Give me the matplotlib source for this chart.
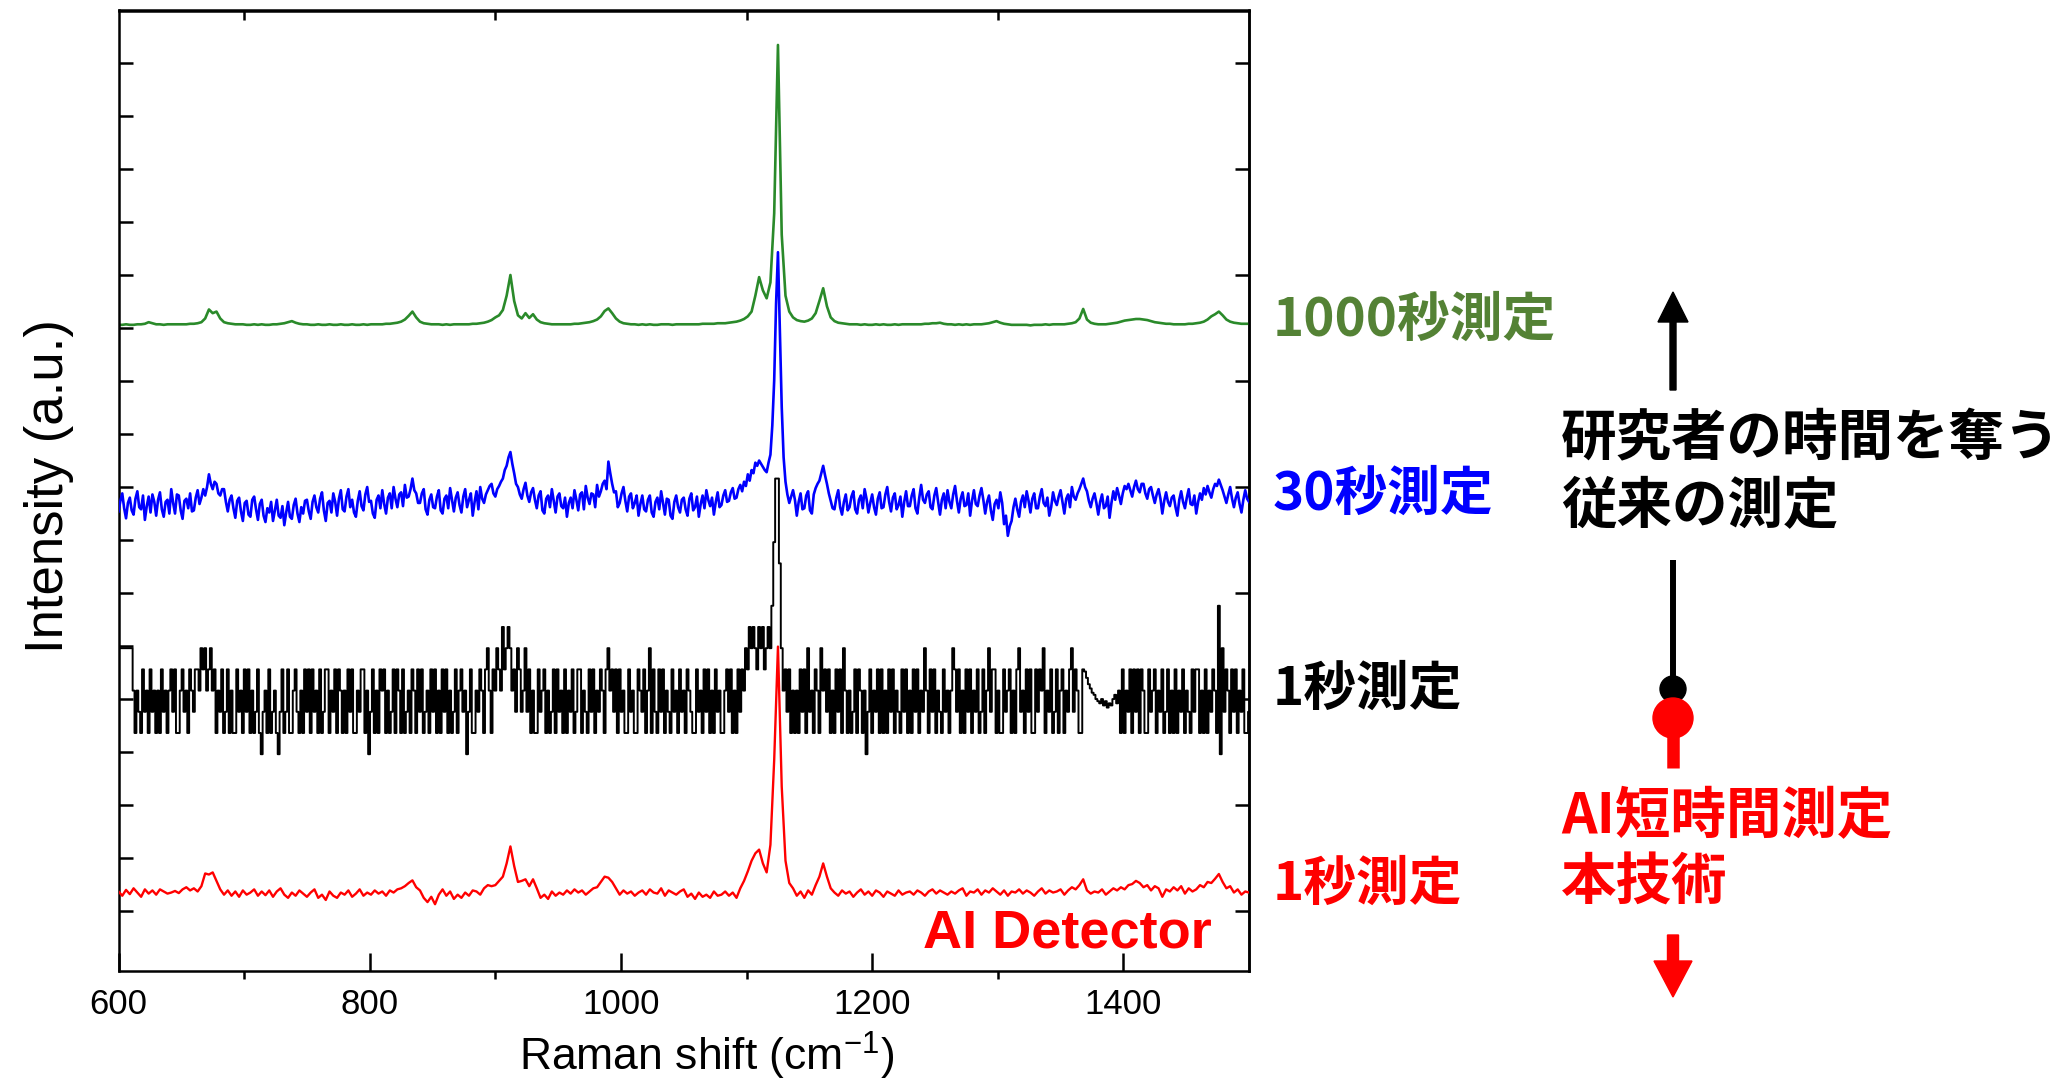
import numpy as np
import matplotlib
matplotlib.use("Agg")
import matplotlib.pyplot as plt
from matplotlib.patches import FancyArrow, Circle

plt.rcParams['font.family'] = ['Liberation Sans', 'DejaVu Sans']
plt.rcParams['mathtext.fontset'] = 'custom'
plt.rcParams['mathtext.rm'] = 'Liberation Sans'
plt.rcParams['mathtext.default'] = 'regular'

# Raman shift grids (cm-1): smooth traces every 3 cm-1, noisy ones every 1.5 cm-1
shift = np.arange(600, 1501, 3)
shift_fine = np.linspace(600, 1500, 601)

# spectra, in 0.01 tick-units above each trace's baseline
green_1000s = [
    0, 0, 1, 0, 0, 1, 1, 2, 5, 3,
    1, 1, 0, 1, 1, 1, 1, 1, 1, 2,
    2, 3, 5, 12, 29, 22, 25, 12, 5, 3,
    2, 1, 1, 1, 0, 0, 1, 0, 1, 0,
    0, 1, 1, 2, 3, 5, 7, 4, 2, 1,
    1, 0, 0, 1, 0, 0, 1, 0, 0, 1,
    0, 0, 1, 0, 0, 1, 0, 1, 1, 1,
    1, 2, 2, 3, 4, 6, 10, 17, 25, 14,
    6, 3, 2, 1, 1, 1, 0, 1, 0, 1,
    1, 1, 1, 1, 2, 2, 3, 4, 6, 9,
    14, 18, 28, 55, 94, 45, 18, 12, 22, 13,
    20, 10, 5, 3, 2, 1, 1, 1, 1, 1,
    1, 2, 2, 3, 4, 5, 7, 10, 16, 26,
    31, 22, 12, 6, 3, 2, 1, 1, 0, 1,
    0, 1, 0, 0, 1, 1, 1, 0, 1, 1,
    1, 1, 1, 1, 1, 2, 2, 2, 2, 3,
    3, 3, 4, 5, 6, 8, 11, 16, 25, 55,
    90, 65, 50, 80, 210, 528, 170, 55, 25, 14,
    9, 7, 6, 8, 12, 22, 45, 69, 35, 14,
    7, 4, 3, 2, 1, 1, 1, 0, 1, 0,
    0, 1, 0, 1, 0, 0, 1, 0, 1, 1,
    1, 1, 1, 1, 2, 2, 3, 3, 4, 2,
    1, 1, 0, 1, 0, 1, 0, 1, 1, 1,
    2, 3, 5, 7, 4, 2, 1, 0, 0, 0,
    0, 0, -1, 0, 0, 0, 1, 0, 1, 1,
    1, 1, 2, 3, 5, 12, 30, 10, 4, 2,
    1, 1, 1, 2, 3, 4, 6, 8, 9, 10,
    11, 11, 10, 9, 7, 5, 4, 3, 2, 2,
    1, 1, 1, 1, 2, 2, 3, 4, 6, 10,
    16, 20, 25, 18, 10, 6, 4, 3, 2, 2,
    2,
]

# 30 s trace on the fine grid (20 readings per 30 cm-1)
blue_30s = [
    -12, 8, 22, -6, -25, 4, 14, -10, -18, 12, 26, -4, -8, 18, -28, -2, 16, -14, 20, 6,
    -20, 10, 24, -8, -22, 6, 10, -16, 30, 4, -16, 20, 18, -10, -26, 8, 12, -6, 22, -12,
    -10, 14, 28, 2, 14, 30, 18, 34, 58, 40, 30, 44, 40, 22, 18, 30, 30, 6, -12, 10,
    18, -6, -24, 8, 14, -12, -30, 4, 8, -18, -22, 10, 16, -8, -28, 2, 10, -20, -32, -6,
    -14, 6, -30, -10, 10, -20, -24, -2, -38, -14, 6, -22, -26, 0, 12, -16, -32, -4, -16, 8,
    10, -12, -26, 6, 18, -4, -14, 12, 24, -10, -30, 4, 8, -14, 22, 6, -20, 12, 28, -8,
    -12, 16, 30, -4, 10, -14, -22, 8, 26, -2, -10, 20, 34, 6, 8, -16, -24, 10, 18, -6,
    28, 2, -16, 14, 22, -6, 34, 12, -4, 20, 24, -2, 38, 14, 16, 30, 50, 28, 22, 4,
    4, 22, 30, -8, -18, 10, 20, -4, -6, 16, 28, -10, -16, 12, 18, -6, 32, 10, -12, 14,
    24, 0, -14, 16, 30, -4, 10, 22, -20, 6, 26, -8, 34, 12, 4, 20, 28, 36, 40, 22,
    16, 30, 36, 44, 50, 66, 74, 90, 100, 78, 60, 40, 34, 20, 12, 30, 42, 18, 6, 24,
    32, 10, -6, 18, 26, -10, -16, 12, 18, -4, 30, 8, -14, 16, 22, -2, -6, 14, -22, 4,
    14, -6, 28, 10, -10, 20, 24, -8, 36, 14, 2, 22, 20, -4, 38, 16, 26, 40, 46, 30,
    82, 60, 40, 24, 26, -4, 4, 22, 34, 8, -12, 16, 22, -6, 4, 18, -20, 2, 18, -8,
    -12, 10, 18, -14, -22, 6, 14, -8, 26, 4, -18, 12, 10, -20, -26, 6, 18, -4, -14, 10,
    14, -8, -20, 12, 22, -10, -4, 16, -22, 2, 18, -6, 28, 10, -2, 14, -18, 6, 24, -4,
    0, 18, 28, 6, 8, 24, 32, 12, 14, 30, 38, 26, 44, 36, 58, 46, 66, 60, 80, 74,
    84, 78, 72, 66, 62, 80, 95, 150, 235, 380, 477, 330, 185, 90, 44, 20, 4, 16, 28, 10,
    -20, 6, 22, -8, -6, 18, 26, -10, -16, 20, 32, 40, 46, 60, 74, 56, 40, 22, 8, -6,
    -8, 14, 28, -4, -18, 6, 20, -10, -4, 16, 26, -8, -16, 10, 18, -6, 30, 12, -14, 4,
    20, -4, -18, 12, 24, -6, -4, 20, 34, 6, -12, 14, 22, -8, 0, 16, -22, 6, 26, -2,
    -2, 18, 30, -6, -16, 14, 38, 10, 4, 20, 26, -4, -8, 18, 32, 6, -18, 10, 22, -6,
    28, 6, -6, 20, 36, 8, -14, 12, 24, -2, 0, 22, -20, 8, 28, 2, -2, 18, 32, 10,
    -16, 6, 18, -10, -28, 2, 10, -6, 24, 4, -36, -20, -58, -40, -30, -4, 12, -8, -22, 6,
    18, -4, 26, 8, -14, 12, 22, -6, -6, 16, 30, 4, -2, 14, -20, -4, 24, 8, 0, 16,
    28, 6, -16, 12, 20, -4, 34, 16, 10, 22, 30, 40, 50, 34, 26, 8, -4, 12, 22, 4,
    -18, 6, 20, -6, -2, 16, -24, 4, 26, 10, 32, 18, 2, 22, 36, 30, 40, 28, 16, 34,
    46, 30, 24, 40, 40, 22, 12, 30, 34, 18, 4, 20, 30, 12, -16, 8, 24, 6, -2, 14,
    18, -4, -20, 10, 26, 6, -6, 14, 30, 2, 0, 18, -16, 6, 22, 10, 32, 20, 36, 24,
    14, 30, 40, 36, 48, 38, 28, 16, 4, 20, 34, 12, -4, 14, 24, 2, -14, 10, 28, 12,
    6,
]

# 1 s measurement is quantised: detector counts on the fine grid
black_1s_counts = [
    8, 8, 8, 8, 8, 8, 8, 8, 6, 4, 6, 5, 4, 7, 5, 6, 4, 7, 5, 6,
    4, 6, 4, 7, 5, 6, 4, 6, 7, 5, 7, 4, 4, 6, 7, 5, 6, 4, 7, 6,
    5, 7, 7, 6, 8, 7, 8, 6, 7, 8, 6, 7, 4, 6, 5, 7, 4, 5, 7, 4,
    6, 4, 4, 7, 5, 6, 4, 7, 5, 7, 4, 6, 4, 5, 7, 4, 3, 5, 6, 4,
    7, 4, 5, 6, 4, 3, 5, 7, 4, 5, 7, 4, 4, 6, 7, 5, 4, 6, 4, 7,
    5, 7, 4, 7, 5, 6, 4, 7, 4, 5, 7, 7, 4, 6, 5, 7, 4, 7, 6, 4,
    6, 4, 7, 5, 7, 4, 4, 6, 5, 7, 7, 4, 6, 3, 5, 7, 4, 6, 4, 7,
    6, 7, 4, 6, 4, 5, 7, 4, 7, 6, 4, 7, 4, 5, 6, 4, 7, 6, 4, 7,
    5, 7, 4, 5, 6, 4, 7, 5, 7, 4, 6, 4, 7, 5, 7, 4, 6, 4, 5, 7,
    4, 6, 7, 5, 6, 3, 5, 7, 4, 4, 6, 5, 7, 6, 4, 7, 8, 6, 4, 7,
    6, 8, 7, 6, 9, 7, 8, 9, 8, 6, 7, 5, 8, 7, 5, 6, 8, 5, 7, 4,
    6, 4, 4, 7, 5, 6, 7, 4, 6, 4, 5, 7, 4, 7, 5, 6, 4, 7, 4, 6,
    5, 7, 4, 5, 7, 7, 4, 6, 5, 4, 7, 5, 7, 4, 6, 5, 7, 6, 4, 7,
    8, 6, 7, 5, 7, 4, 7, 5, 6, 4, 4, 7, 5, 6, 4, 4, 7, 6, 5, 7,
    4, 6, 8, 4, 7, 5, 4, 7, 5, 7, 4, 6, 5, 4, 7, 5, 6, 4, 7, 5,
    6, 4, 7, 6, 5, 4, 4, 7, 5, 6, 4, 7, 5, 7, 4, 6, 4, 7, 5, 6,
    4, 4, 6, 7, 5, 7, 4, 6, 4, 7, 5, 7, 6, 8, 7, 9, 8, 9, 8, 7,
    9, 8, 9, 7, 8, 9, 8, 10, 13, 16, 16, 12, 8, 6, 7, 5, 7, 4, 6, 4,
    6, 4, 7, 5, 7, 4, 8, 5, 6, 4, 7, 6, 4, 8, 6, 7, 5, 7, 4, 6,
    4, 7, 5, 7, 4, 8, 6, 4, 6, 4, 5, 7, 4, 7, 6, 4, 6, 3, 5, 7,
    4, 6, 5, 7, 4, 7, 4, 6, 4, 7, 5, 7, 4, 6, 5, 4, 7, 5, 7, 4,
    6, 4, 7, 5, 7, 4, 6, 5, 8, 6, 4, 7, 5, 7, 4, 6, 5, 4, 7, 5,
    6, 4, 6, 8, 7, 5, 7, 4, 6, 4, 7, 5, 7, 4, 6, 5, 7, 4, 5, 7,
    4, 6, 8, 5, 7, 7, 4, 6, 4, 4, 7, 5, 6, 7, 4, 6, 4, 7, 8, 5,
    6, 4, 7, 5, 7, 4, 4, 7, 5, 7, 6, 8, 4, 6, 5, 7, 4, 5, 7, 4,
    6, 7, 4, 6, 5, 7, 8, 5, 7, 6, 4, 4, 7, 6.9, 6.6, 6.3, 6.1, 5.9, 5.8, 5.6,
    5.5, 5.4, 5.6, 5.3, 5.5, 5.2, 5.4, 5.3, 5.6, 5.8, 5.4, 6, 4, 7, 4, 6, 5, 7, 4, 7,
    5, 7, 4, 7, 6, 4, 4, 7, 5, 6, 7, 4, 6, 5, 7, 4, 5, 7, 4, 6,
    4, 7, 4, 6, 5, 7, 4, 6, 5, 4, 7, 5, 7, 7, 4, 6, 4, 7, 4, 6,
    5, 7, 6, 4, 10, 3, 8, 5, 7, 6, 4, 7, 5, 7, 4, 6, 5, 7, 4, 4,
    5,
]

red_ai_1s = [
    2, -6, 5, -3, 8, 0, -8, 6, -2, 4,
    -4, 6, 2, -2, 0, 3, -1, 6, 10, 4,
    8, 2, 12, 36, 34, 38, 22, 6, -4, 4,
    -6, 2, -8, 4, -4, 0, 6, -6, 2, -5,
    4, -8, 2, 8, -4, -10, 0, -6, 4, -2,
    -8, 0, 6, -10, -4, -14, 2, -6, -10, 0,
    -4, 4, -8, -2, 6, -6, 0, -4, 4, -2,
    2, -6, 4, 0, 6, 8, 12, 18, 23, 10,
    4, -10, -18, -8, -22, -4, 6, -6, 2, -12,
    -4, -10, 0, -6, 4, 2, -4, 8, 14, 12,
    14, 22, 30, 55, 87, 50, 20, 22, 25, 12,
    25, 8, -10, -4, -12, 2, -6, 0, -4, 4,
    -2, 6, 0, 4, -4, 2, 8, 10, 20, 30,
    28, 20, 8, -4, 4, -2, 2, -6, 0, 4,
    -4, 6, 0, -2, 8, -6, 4, 0, -4, 2,
    6, -8, -2, -12, 0, -8, -4, -10, 2, -6,
    -4, 2, -6, 0, -10, 8, 22, 40, 60, 74,
    81, 55, 38, 90, 250, 464, 200, 60, 18, 8,
    -6, 2, -10, 4, -4, 14, 30, 55, 30, 8,
    0, -6, 4, -2, 2, -8, 0, 6, -4, 2,
    -6, 4, 0, -8, 2, -2, -6, 4, -4, 0,
    2, -4, 4, 0, -6, 2, 6, -2, 4, 0,
    -4, 2, -2, 4, 8, -6, 2, 0, 6, -4,
    4, 0, 8, 2, -4, 4, -6, 2, 0, 6,
    -2, 4, 0, -6, 2, 8, -2, 4, 0, 2,
    6, -4, 4, 10, 6, 14, 25, 4, -2, 2,
    0, 6, -4, 2, 8, 4, 10, 6, 14, 16,
    22, 18, 10, 14, 4, 12, 8, -8, 6, 2,
    10, 4, 12, -2, 8, 2, 6, 14, 10, 20,
    18, 26, 35, 20, 8, 12, 0, 6, -4, 2,
    0,
]

# stacking offsets (tick units)
green_base = 11.06
blue_base = 7.66
black_base = 1.76
black_step = 0.4
red_base = 0.35

series_labels = ['1000秒測定', '30秒測定', '1秒測定', '1秒測定']
series_colors = ['#548235', '#0000ff', '#000000', '#ff0000']
x_ticks = [600, 800, 1000, 1200, 1400]

W, H = 2065, 1081
fig = plt.figure(figsize=(W / 100, H / 100), dpi=100)
ax = fig.add_axes([118.5 / W, 1 - 971 / H, (1249 - 118.5) / W, (971 - 10.5) / H])

ax.plot(shift, green_base + np.array(green_1000s) / 100, color='#2a8a2a', lw=1.9, zorder=2)
ax.plot(shift_fine, blue_base + np.array(blue_30s) / 100, color='#0000ff', lw=1.9, zorder=3)
ax.plot(shift_fine, black_base + black_step * np.array(black_1s_counts), color='black', lw=1.4,
        drawstyle='steps-mid', zorder=4)
ax.plot(shift, red_base + np.array(red_ai_1s) / 100, color='#ff0000', lw=1.7, zorder=5)

ax.set_xlim(600, 1500)
ax.set_ylim(-1.13, 16.99)
ax.set_xticks(x_ticks)
ax.set_xticklabels([str(t) for t in x_ticks])
ax.set_xticks([700, 900, 1100, 1300], minor=True)
ax.set_yticks(range(17))
ax.tick_params(axis='x', which='major', direction='in', length=13, width=1.8, labelsize=25, pad=12)
ax.tick_params(axis='x', which='minor', direction='out', length=6, width=1.8)
ax.tick_params(axis='y', direction='in', length=10, width=1.8, labelleft=False)
for s in ax.spines.values():
    s.set_linewidth(1.8)

secx = ax.secondary_xaxis('top')
secx.set_xticks([700, 900, 1100, 1300])
secx.tick_params(direction='in', length=7, width=1.8, labeltop=False)
secx.spines['top'].set_linewidth(1.8)
secy = ax.secondary_yaxis('right')
secy.set_yticks(range(0, 17, 2))
secy.tick_params(direction='in', length=10, width=1.8, labelright=False)
secy.spines['right'].set_linewidth(1.8)

ax.set_xlabel('Raman shift (cm$^{-1}$)', fontsize=32)
ax.xaxis.set_label_coords(0.52, -0.061)
ax.set_ylabel('Intensity (a.u.)', fontsize=38)
ax.yaxis.set_label_coords(-0.039, 0.505)

# overlay in pixel coordinates for labels and arrows
ov = fig.add_axes([0, 0, 1, 1], zorder=5)
ov.set_xlim(0, W)
ov.set_ylim(H, 0)
ov.set_axis_off()

jp = ['Noto Sans CJK JP', 'DejaVu Sans']
label_y = [320, 494, 689, 884]
for txt, col, yy in zip(series_labels, series_colors, label_y):
    ov.text(1273, yy, txt, color=col, fontsize=38, fontweight='bold', family=jp,
            ha='left', va='center')

ov.text(1212, 934, 'AI Detector', color='#ff0000', fontsize=39, fontweight='bold',
        family=['Liberation Sans'], ha='right', va='center')

ov.text(1561, 439, '研究者の時間を奪う', color='black', fontsize=40, fontweight='bold',
        family=jp, ha='left', va='center')
ov.text(1561, 507, '従来の測定', color='black', fontsize=40, fontweight='bold',
        family=jp, ha='left', va='center')
ov.text(1561, 817, 'AI短時間測定', color='#ff0000', fontsize=40, fontweight='bold',
        family=jp, ha='left', va='center')
ov.text(1561, 884, '本技術', color='#ff0000', fontsize=40, fontweight='bold',
        family=jp, ha='left', va='center')

ax_x = 1673
ov.add_patch(FancyArrow(ax_x, 390, 0, -98, width=6, head_width=30, head_length=30,
                        length_includes_head=True, color='black'))
ov.plot([ax_x, ax_x], [560, 689], color='black', lw=4.3, solid_capstyle='butt')
ov.add_patch(Circle((ax_x, 689), 13, color='black'))
ov.plot([ax_x, ax_x], [718, 768], color='#ff0000', lw=9, solid_capstyle='butt')
ov.add_patch(Circle((ax_x, 718), 20, color='#ff0000'))
ov.add_patch(FancyArrow(ax_x, 935, 0, 62, width=11, head_width=38, head_length=36,
                        length_includes_head=True, color='#ff0000'))

fig.savefig('out.png', dpi=100)
